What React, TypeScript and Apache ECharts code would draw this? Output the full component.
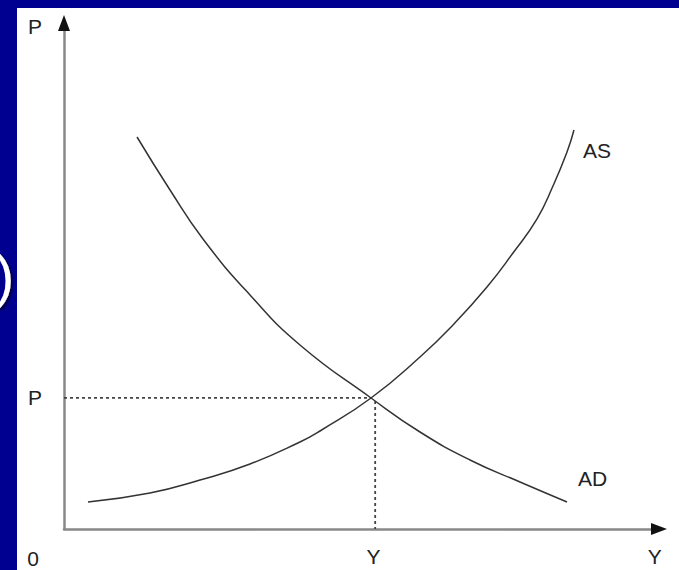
import React, { useEffect, useRef } from "react";
import * as echarts from "echarts";

// Aggregate supply curve (Y, P)
const AS_Y = [4.03, 14.45, 22.86, 31.26, 39.66, 43.03, 51.6, 59.83, 65.38, 71.09, 75.46, 79.5, 82.18, 84.54, 85.71];
const AS_P = [5.34, 7.11, 9.68, 12.85, 17.19, 19.37, 25.89, 33.99, 40.32, 47.83, 54.55, 61.3, 67.79, 74.51, 78.85];
// Aggregate demand curve
const AD_Y = [12.27, 17.82, 23.36, 31.26, 39.66, 51.6, 59.83, 68.24, 76.64, 84.54];
const AD_P = [77.47, 67.0, 57.31, 46.25, 36.36, 25.89, 19.17, 13.64, 9.29, 5.34];
// Equilibrium guide values
const EQ_Y = 52.3;
const EQ_P = 25.9;
// Axis ends and labels
const AXIS_MAX = 100;
const X_LABEL_VALUES = [52.0, 99.3];
const X_LABELS = ["Y", "Y"];
const Y_LABEL_VALUES = [EQ_P, 99.4];
const Y_LABELS = ["P", "P"];

const FONT = "'Liberation Sans', Arial, sans-serif";

function pickLabel(values: number[], labels: string[], v: number) {
  for (let i = 0; i < values.length; i++) {
    if (Math.abs(values[i] - v) < 0.01) return labels[i];
  }
  return "";
}

export default function App() {
  const ref = useRef<HTMLDivElement>(null);
  useEffect(() => {
    if (!ref.current) return;
    const chart = echarts.init(ref.current, undefined, { renderer: "svg" });
    const asData = AS_Y.map((y, i) => [y, AS_P[i]]);
    const adData = AD_Y.map((y, i) => [y, AD_P[i]]);
    chart.setOption({
      animation: false,
      backgroundColor: "#000090",
      textStyle: { fontFamily: FONT },
      graphic: [
        {
          type: "rect",
          z: -10,
          shape: { x: 17, y: 8, width: 662, height: 562 },
          style: { fill: "#ffffff" },
          silent: true,
        },
        {
          type: "text",
          z: 10,
          x: -5,
          y: 275,
          style: {
            text: ")",
            fontFamily: FONT,
            fontSize: 58,
            fill: "#ffffff",
            verticalAlign: "middle",
            align: "left",
            textShadowColor: "rgba(0,0,40,0.8)",
            textShadowOffsetX: 2,
            textShadowOffsetY: 2,
            textShadowBlur: 2,
          },
        },
        {
          type: "text",
          x: 33,
          y: 558,
          style: {
            text: "0",
            fontFamily: FONT,
            fontSize: 21,
            fill: "#222222",
            align: "center",
            verticalAlign: "middle",
          },
        },
      ],
      grid: { left: 64, right: 20, top: 23, bottom: 41 },
      xAxis: {
        type: "value",
        min: 0,
        max: AXIS_MAX,
        splitLine: { show: false },
        axisTick: { show: false },
        axisLine: { show: true, onZero: false, lineStyle: { color: "#888888", width: 2.5 } },
        axisLabel: {
          show: true,
          customValues: X_LABEL_VALUES,
          formatter: (v: number) => pickLabel(X_LABEL_VALUES, X_LABELS, v),
          margin: 17,
          fontSize: 21,
          color: "#222222",
          fontFamily: FONT,
          showMinLabel: true,
          showMaxLabel: true,
        },
      },
      yAxis: {
        type: "value",
        min: 0,
        max: AXIS_MAX,
        splitLine: { show: false },
        axisTick: { show: false },
        axisLine: { show: true, onZero: false, lineStyle: { color: "#888888", width: 2.5 } },
        axisLabel: {
          show: true,
          customValues: Y_LABEL_VALUES,
          formatter: (v: number) => pickLabel(Y_LABEL_VALUES, Y_LABELS, v),
          margin: 22,
          fontSize: 21,
          color: "#222222",
          fontFamily: FONT,
          showMinLabel: true,
          showMaxLabel: true,
        },
      },
      series: [
        {
          name: "AS",
          type: "line",
          data: asData,
          smooth: 0.5,
          showSymbol: false,
          lineStyle: { color: "#333333", width: 1.5 },
          endLabel: {
            show: true,
            formatter: "AS",
            offset: [1, 20],
            fontSize: 21,
            color: "#222222",
            fontFamily: FONT,
          },
          z: 3,
        },
        {
          name: "AD",
          type: "line",
          data: adData,
          smooth: 0.5,
          showSymbol: false,
          lineStyle: { color: "#333333", width: 1.5 },
          endLabel: {
            show: true,
            formatter: "AD",
            offset: [3, -23],
            fontSize: 21,
            color: "#222222",
            fontFamily: FONT,
          },
          z: 3,
        },
        {
          name: "guideH",
          type: "line",
          data: [
            [0, EQ_P],
            [EQ_Y - 0.8, EQ_P],
          ],
          showSymbol: false,
          lineStyle: { color: "#444444", width: 1.8, type: [3, 3] },
          z: 2,
        },
        {
          name: "guideV",
          type: "line",
          data: [
            [EQ_Y, EQ_P - 0.6],
            [EQ_Y, 0],
          ],
          showSymbol: false,
          lineStyle: { color: "#444444", width: 1.8, type: [3, 3] },
          z: 2,
          markPoint: {
            silent: true,
            label: { show: false },
            itemStyle: { color: "#111111" },
            data: [
              { coord: [AXIS_MAX, 0], symbol: "triangle", symbolRotate: -90, symbolSize: [12, 16] },
              { coord: [0, AXIS_MAX], symbol: "triangle", symbolSize: [12, 16] },
            ],
          },
        },
      ],
    });
    return () => chart.dispose();
  }, []);
  return (
    <div
      ref={ref}
      style={{ position: "fixed", left: 0, top: 0, width: 679, height: 570 }}
    />
  );
}
